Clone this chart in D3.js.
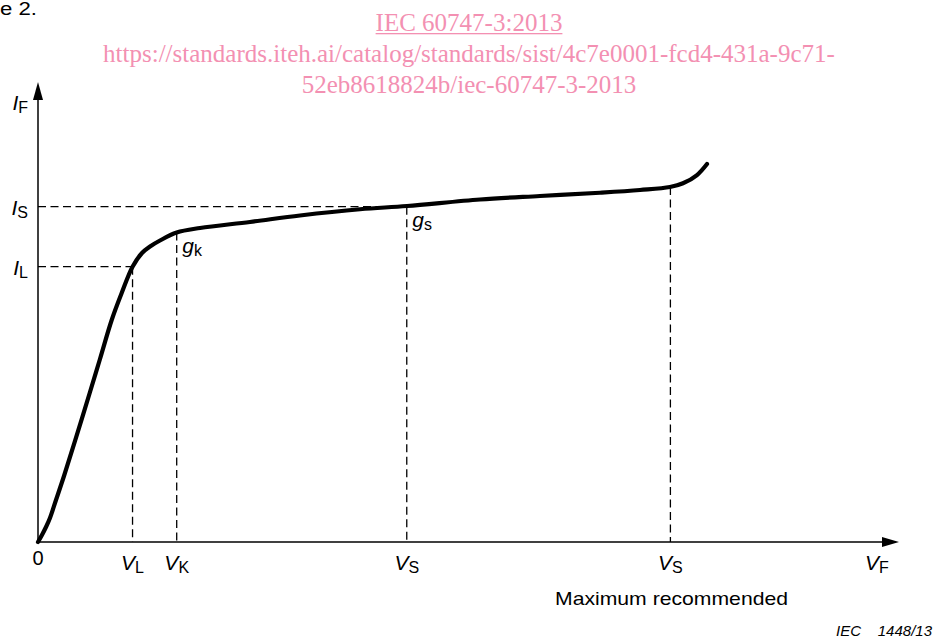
<!DOCTYPE html>
<html>
<head>
<meta charset="utf-8">
<script src="https://cdn.jsdelivr.net/npm/d3@7/dist/d3.min.js"></script>
<style>
  body { margin: 0; background: #fff; }
  svg { display: block; }
</style>
</head>
<body>
<script>
// Forward characteristic I_F(V_F), both axes in arbitrary units 0..100
var curveV = [0, 0.46, 0.93, 1.39, 2.09, 3.02, 4.30, 6.04, 7.20, 8.56, 9.72, 10.98, 12.08, 13.01, 14.17, 16.11,
              18.82, 24.62, 30.43, 37.40, 42.86, 51.34, 58.30, 65.27, 69.92, 73.40, 74.91, 76.54, 77.70];
var curveI = [0, 1.52, 3.26, 5.22, 9.13, 14.35, 21.96, 32.61, 39.78, 48.26, 54.13, 59.85, 62.83, 64.24, 65.54, 67.28,
              68.26, 69.57, 70.98, 72.33, 73.04, 74.46, 75.22, 75.93, 76.52, 77.17, 77.98, 79.78, 82.17];

// marked points on the curve
var pointNames = ["L", "K", "S", "Smax"];
var pointV = [10.98, 16.11, 42.83, 73.45];
var pointI = [59.85, 67.28, 72.90, 77.17];

// tick labels: [main letter, subscript]
var xTickLabels = [["V", "L"], ["V", "K"], ["V", "S"], ["V", "S"]];
var yTickLabels = [["I", "L"], null, ["I", "S"], null];
var conductLabels = [null, ["g", "k"], ["g", "s"], null];

var titleLines = ["IEC 60747-3:2013",
  "https://standards.iteh.ai/catalog/standards/sist/4c7e0001-fcd4-431a-9c71-",
  "52eb8618824b/iec-60747-3-2013"];

var w = 933, h = 638;
var svg = d3.select("body").append("svg").attr("width", w).attr("height", h);

var x = d3.scaleLinear().domain([0, 100]).range([38, 899]);
var y = d3.scaleLinear().domain([0, 100]).range([542, 82]);

var sans = "'Liberation Sans', Arial, sans-serif";

// cut-off caption above the figure (only its tail is inside the picture)
svg.append("text")
  .attr("transform", "translate(37,14.5) scale(1.2,1)")
  .attr("text-anchor", "end")
  .style("font-family", sans).style("font-size", "18.5px")
  .text("Figure 2.");

// pink watermark title
var title = svg.append("g").attr("fill", "#f390b2")
  .style("font-family", "'Liberation Serif', 'Times New Roman', serif")
  .style("font-size", "25px");
titleLines.forEach(function(t, i) {
  title.append("text")
    .attr("x", 469).attr("y", 31 + i * 31)
    .attr("text-anchor", "middle")
    .text(t);
});
var tw = title.select("text").node().getComputedTextLength();
title.append("rect")
  .attr("x", 469 - tw / 2).attr("y", 33)
  .attr("width", tw).attr("height", 1.3);

// dashed guide lines
var guides = svg.append("g")
  .attr("fill", "none").attr("stroke", "#000")
  .attr("stroke-width", 1.3).attr("stroke-dasharray", "8,4.5");

pointNames.forEach(function(n, i) {
  guides.append("line")
    .attr("x1", x(pointV[i])).attr("x2", x(pointV[i]))
    .attr("y1", y(pointI[i])).attr("y2", y(0));
  if (yTickLabels[i]) {
    guides.append("line")
      .attr("x1", x(0)).attr("x2", x(pointV[i]))
      .attr("y1", y(pointI[i])).attr("y2", y(pointI[i]));
  }
});

// axes with arrows
var axes = svg.append("g");
axes.append("line")
  .attr("x1", x(0)).attr("y1", y(0)).attr("x2", x(0)).attr("y2", y(0) - 445)
  .attr("stroke", "#000").attr("stroke-width", 1.5);
axes.append("line")
  .attr("x1", x(0)).attr("y1", y(0)).attr("x2", x(100) - 14).attr("y2", y(0))
  .attr("stroke", "#000").attr("stroke-width", 1.5);
axes.append("path")
  .attr("d", "M" + x(0) + "," + y(100) + "l-5,18h10z").attr("fill", "#000");
axes.append("path")
  .attr("d", "M" + x(100) + "," + y(0) + "l-17,-5v10z").attr("fill", "#000");

// the characteristic
var pts = curveV.map(function(v, i) { return [v, curveI[i]]; });
var line = d3.line()
  .x(function(d) { return x(d[0]); })
  .y(function(d) { return y(d[1]); })
  .curve(d3.curveCatmullRom.alpha(0.5));
svg.append("path")
  .datum(pts)
  .attr("d", line)
  .attr("fill", "none").attr("stroke", "#000")
  .attr("stroke-width", 4.2).attr("stroke-linecap", "round").attr("stroke-linejoin", "round");

// label helper: italic letter with upright subscript
function label(g, px, py, parts, anchor, size, subSize) {
  var t = g.append("text")
    .attr("x", px).attr("y", py)
    .attr("text-anchor", anchor)
    .style("font-family", sans).style("font-size", size + "px");
  t.append("tspan").style("font-style", "italic").text(parts[0]);
  t.append("tspan").attr("dy", 3).style("font-size", subSize + "px").text(parts[1]);
  return t;
}

var labels = svg.append("g").attr("fill", "#000");

pointNames.forEach(function(n, i) {
  label(labels, x(pointV[i]), 570, xTickLabels[i], "middle", 21, 16);
  if (yTickLabels[i]) label(labels, 28, y(pointI[i]) + 8.5, yTickLabels[i], "end", 21, 16);
  if (conductLabels[i]) label(labels, x(pointV[i]) + 5.5, y(pointI[i]) + 20.5, conductLabels[i], "start", 21, 16);
});

labels.append("text")
  .attr("x", x(0)).attr("y", 565).attr("text-anchor", "middle")
  .style("font-family", sans).style("font-size", "20px").text("0");

label(labels, 28, 110, ["I", "F"], "end", 21, 16);
label(labels, 877, 570, ["V", "F"], "middle", 21, 16);

labels.append("text")
  .attr("x", 555).attr("y", 605)
  .attr("textLength", 233).attr("lengthAdjust", "spacingAndGlyphs")
  .style("font-family", sans).style("font-size", "19px")
  .text("Maximum recommended");

var ref = labels.append("g").style("font-family", sans).style("font-size", "15px").style("font-style", "italic");
ref.append("text").attr("x", 836).attr("y", 636).text("IEC");
ref.append("text").attr("x", 932).attr("y", 636).attr("text-anchor", "end").text("1448/13");
</script>
</body>
</html>
